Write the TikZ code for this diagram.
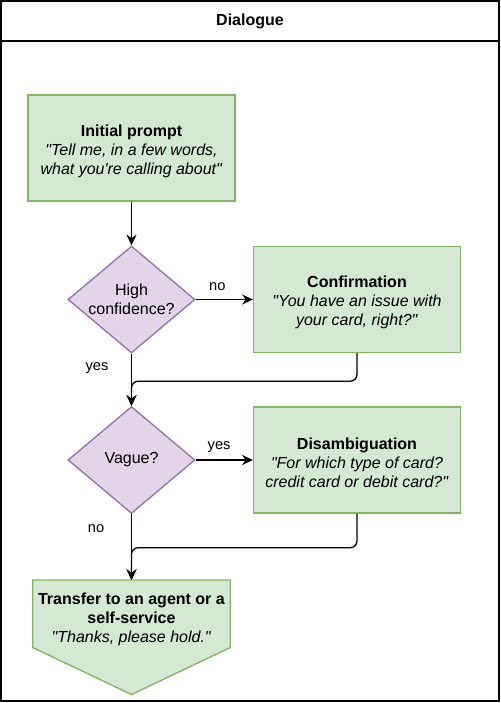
\documentclass[tikz,border=0pt]{standalone}
\usepackage{fontspec}
\setmainfont{Liberation Sans}[Ligatures=TeXOff]
\usetikzlibrary{arrows.meta}
\usetikzlibrary{shapes.geometric}
\usetikzlibrary{calc}

\definecolor{stepFill}{HTML}{D5E8D4}
\definecolor{stepLine}{HTML}{82B366}
\definecolor{testFill}{HTML}{E1D5E7}
\definecolor{testLine}{HTML}{9673A6}

\newcommand{\topgap}{\rule{0pt}{13.5pt}}

\tikzset{
	stepbox/.style={rectangle, fill=stepFill, draw=stepLine, line width=1pt, minimum width=155.25pt, minimum height=79.5pt, inner sep=0pt, align=center, font=\fontsize{12}{14.25}\selectfont},
	testbox/.style={diamond, aspect=1.2, fill=testFill, draw=testLine, line width=1pt, minimum width=95.25pt, minimum height=80.25pt, inner sep=0pt, align=center, font=\fontsize{12}{14.25}\selectfont},
	endbox/.style={rectangle, minimum width=147.75pt, minimum height=50.25pt, inner sep=0pt, align=center, font=\fontsize{12}{14.25}\selectfont},
	flow/.style={line width=1pt, rounded corners=5pt, -{Stealth[length=8pt, width=7.5pt]}},
	answer/.style={inner sep=0pt, font=\fontsize{11}{13}\selectfont}
}

\begin{document}
\begin{tikzpicture}[x=0.75pt, y=-0.75pt]

	\pgfdeclarelayer{background}
	\pgfsetlayers{background,main}

	%declare constants, all in pixels of the page
	\def\colA{131.5}
	\def\colB{357}
	\def\tipDepth{47}

	\useasboundingbox (0,0) rectangle (500,703);

	%outer frame with the title bar
	\draw[line width=1pt] (1,1) rectangle (499,701);
	\draw[line width=1pt] (1,41) -- (499,41);
	\node[font=\fontsize{12}{14.25}\selectfont\bfseries] (title) at (250,21) {Dialogue};

	%dialogue steps
	\node[stepbox] (prompt) at (\colA,148) {\topgap\textbf{Initial prompt}\\\textit{"Tell me, in a few words,}\\\textit{what you're calling about"}};
	\node[testbox] (confident) at (\colA,299.5) {High\\confidence?};
	\node[stepbox] (confirm) at (\colB,299.5) {\topgap\textbf{Confirmation}\\\textit{"You have an issue with}\\\textit{your card, right?"}};
	\node[testbox] (vague) at (\colA,460) {Vague?};
	\node[stepbox] (disambig) at (\colB,460) {\topgap\textbf{Disambiguation}\\\textit{"For which type of card?}\\\textit{credit card or debit card?"}};
	\node[endbox, anchor=north] (transfer) at (\colA,580) {\rule{0pt}{17pt}\textbf{Transfer to an agent or a}\\\textbf{self-service}\\\textit{"Thanks, please hold."}};
	\begin{pgfonlayer}{background}
		%off-page shape behind the last step
		\filldraw[fill=stepFill, draw=stepLine, line width=1pt] (transfer.north west) -- (transfer.north east) -- (transfer.south east) -- ($(transfer.south)+(0,\tipDepth)$) -- (transfer.south west) -- cycle;
	\end{pgfonlayer}

	%connectors
	\draw[flow] (prompt) -- (confident);
	\draw[flow] (confident) -- node[answer, pos=0.38, yshift=9.4pt] {no} (confirm);
	\draw[flow] (confident) -- node[answer, pos=0.28, xshift=-25.9pt] {yes} (vague);
	\draw[flow] (confirm.south) -- ++(0,28) -| (vague.north);
	\draw[flow] (vague) -- node[answer, pos=0.41, yshift=9.75pt] {yes} (disambig);
	\draw[flow] (vague) -- node[answer, pos=0.22, xshift=-26.6pt] {no} (transfer);
	\draw[flow] (disambig.south) -- ++(0,34) -| (transfer.north);

\end{tikzpicture}
\end{document}
